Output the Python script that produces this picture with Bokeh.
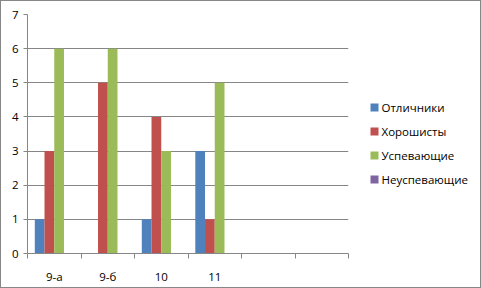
from bokeh.plotting import figure
from bokeh.models import FixedTicker, ColumnDataSource, Range1d
from bokeh.layouts import row
from bokeh.core.properties import value
from bokeh.embed import file_html
from bokeh.resources import INLINE
import numpy as np

categories = ["9-а", "9-б", "10", "11", "", ""]
series_names = ["Отличники", "Хорошисты", "Успевающие", "Неуспевающие"]
otlichniki = [1, 0, 1, 3]
khoroshisty = [3, 5, 4, 1]
uspevayushchie = [6, 6, 3, 5]
neuspevayushchie = [0, 0, 0, 0]
colors = ["#4F81BD", "#C0504D", "#9BBB59", "#8064A2"]
y_ticks = [0, 1, 2, 3, 4, 5, 6, 7]

FONT = "Open Sans"
GRID = "#868686"
H = 286
TOP, BOTTOM = 13, 34

p = figure(width=348, height=H, output_backend="svg", toolbar_location=None,
           x_range=Range1d(0, len(categories)), y_range=Range1d(0, 7),
           min_border_left=26, min_border_right=1, min_border_top=TOP, min_border_bottom=BOTTOM)
p.outline_line_color = None
p.background_fill_color = "white"
p.border_fill_color = "white"

all_series = [otlichniki, khoroshisty, uspevayushchie, neuspevayushchie]
n = len(all_series)
bw = 1.0 / (n + 1.5)
for i, (vals, col) in enumerate(zip(all_series, colors)):
    idx = np.arange(len(vals))
    xs = idx + 0.5 + (i - (n - 1) / 2) * bw
    src = ColumnDataSource(dict(x=xs, top=vals))
    p.vbar(x="x", top="top", width=bw, source=src, fill_color=col, line_color=None)

# x axis
centers = [i + 0.5 for i in range(len(categories))]
p.xaxis.ticker = FixedTicker(ticks=centers, minor_ticks=list(range(len(categories) + 1)))
p.xaxis.major_label_overrides = {c: lab for c, lab in zip(centers, categories)}
p.xaxis.major_tick_in = 0
p.xaxis.major_tick_out = 0
p.xaxis.minor_tick_in = 0
p.xaxis.minor_tick_out = 5
p.xaxis.minor_tick_line_color = GRID
p.xaxis.axis_line_color = GRID
p.xaxis.major_label_standoff = 10
p.xaxis.major_label_text_font = FONT
p.xaxis.major_label_text_font_size = "11.5px"
p.xaxis.major_label_text_color = "#000000"
p.xgrid.grid_line_color = None

# y axis
p.yaxis.ticker = FixedTicker(ticks=y_ticks)
p.yaxis.major_tick_in = 0
p.yaxis.major_tick_out = 4
p.yaxis.minor_tick_line_color = None
p.yaxis.major_tick_line_color = GRID
p.yaxis.axis_line_color = GRID
p.yaxis.major_label_standoff = 5
p.yaxis.major_label_text_font = FONT
p.yaxis.major_label_text_font_size = "11.5px"
p.yaxis.major_label_text_color = "#000000"
p.ygrid.grid_line_color = GRID
p.ygrid.ticker = FixedTicker(ticks=y_ticks)

# legend panel: frame aligned with the chart frame; y in page pixels, downward
LW = 131
frame_top = TOP + 1
frame_bottom = H - BOTTOM + 1
leg = figure(width=LW, height=H, output_backend="svg", toolbar_location=None,
             x_range=Range1d(0, LW), y_range=Range1d(frame_bottom, frame_top),
             x_axis_type=None, y_axis_type=None,
             min_border_left=0, min_border_right=0, min_border_top=TOP, min_border_bottom=BOTTOM)
leg.outline_line_color = None
leg.grid.grid_line_color = None
leg.background_fill_color = "white"
leg.border_fill_color = "white"

row_y = [107 + 24 * k for k in range(len(series_names))]
lsrc = ColumnDataSource(dict(x=[25] * len(series_names), y=row_y,
                             tx=[32] * len(series_names), name=series_names, color=colors))
leg.rect(x="x", y="y", width=8, height=8, width_units="screen", height_units="screen",
         source=lsrc, fill_color="color", line_color=None)
leg.text(x="tx", y="y", text="name", source=lsrc, text_font=value(FONT),
         text_font_size="11.5px", text_baseline="middle", text_align="left", text_color="#000000")

layout = row(p, leg, styles={"border": "1px solid #878787"})
open("out.html", "w").write(file_html(layout, INLINE))
